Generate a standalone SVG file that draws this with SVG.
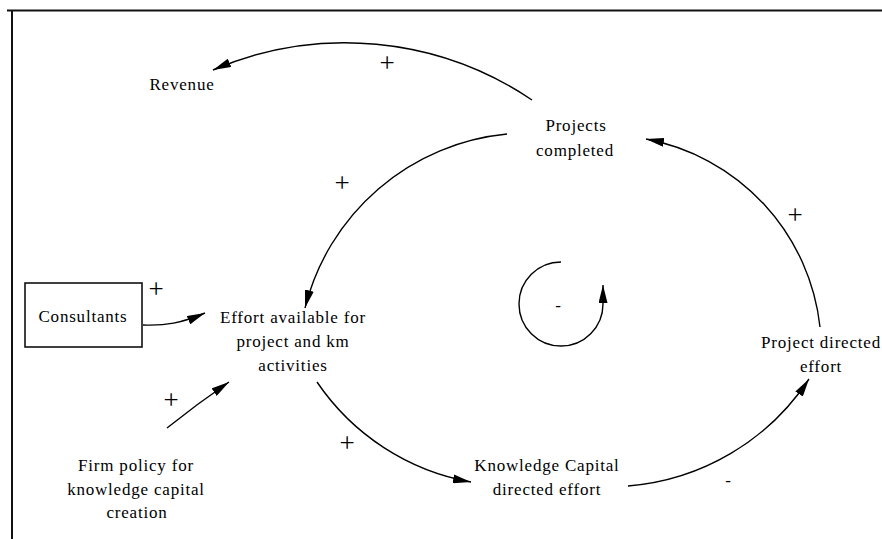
<svg xmlns="http://www.w3.org/2000/svg" width="882" height="539" viewBox="0 0 882 539">
  <style>
    .lbl { font-family: "Liberation Serif", "Times New Roman", serif; font-size: 17px; letter-spacing: 0.8px; fill: #000; text-anchor: middle; }
    .sgn { font-family: "Liberation Serif", "Times New Roman", serif; font-size: 27px; fill: #000; text-anchor: middle; }
    .neg { font-family: "Liberation Serif", "Times New Roman", serif; font-size: 17px; fill: #000; text-anchor: middle; }
    .link { fill: none; stroke: #000; stroke-width: 1.4; marker-end: url(#head); }
    .frame { stroke: #111; stroke-width: 2; }
  </style>
  <defs>
    <marker id="head" viewBox="0 0 18 9" refX="18" refY="4.5" markerWidth="18" markerHeight="9" markerUnits="userSpaceOnUse" orient="auto">
      <path d="M0,0 L18,4.5 L0,9 z" fill="#000"/>
    </marker>
  </defs>

  <rect width="882" height="539" fill="#fff"/>

  <!-- page frame: top and left edges only -->
  <line class="frame" x1="7" y1="10.5" x2="882" y2="10.5"/>
  <line class="frame" x1="12" y1="10" x2="12" y2="539"/>

  <!-- causal links -->
  <g id="links">
    <path class="link" d="M532,100 A334,334 0 0,0 213,70"/>
    <path class="link" d="M507,134 A231,231 0 0,0 305,308"/>
    <path class="link" d="M317,382 A236,236 0 0,0 471,482"/>
    <path class="link" d="M628,486 A239.5,239.5 0 0,0 809,379"/>
    <path class="link" d="M820,327 A215,215 0 0,0 646,139"/>
    <path class="link" d="M143,325 C165,326 182,323 205,313"/>
    <path class="link" d="M167,428 Q197,404 229,382"/>
    <!-- loop marker -->
    <path class="link" d="M561,262 A42,42 0 1,0 603,304 L603,285"/>
  </g>

  <!-- polarity signs -->
  <g id="signs">
    <text class="sgn" x="387" y="72">+</text>
    <text class="sgn" x="342" y="192">+</text>
    <text class="sgn" x="795" y="224">+</text>
    <text class="sgn" x="156" y="298">+</text>
    <text class="sgn" x="171" y="409">+</text>
    <text class="sgn" x="347" y="452">+</text>
    <text class="neg" x="558" y="311">-</text>
    <text class="neg" x="728" y="486">-</text>
  </g>

  <g id="revenue">
    <text class="lbl" x="182" y="90">Revenue</text>
  </g>

  <g id="projects-completed">
    <text class="lbl" x="576" y="131">Projects</text>
    <text class="lbl" x="575" y="156">completed</text>
  </g>

  <g id="consultants">
    <rect x="25" y="283" width="117" height="64" fill="#fff" stroke="#111" stroke-width="1.6"/>
    <text class="lbl" x="83" y="322">Consultants</text>
  </g>

  <g id="effort-available">
    <text class="lbl" x="293" y="323">Effort available for</text>
    <text class="lbl" x="293" y="347">project and km</text>
    <text class="lbl" x="293" y="371">activities</text>
  </g>

  <g id="firm-policy">
    <text class="lbl" x="136" y="471">Firm policy for</text>
    <text class="lbl" x="136" y="495">knowledge capital</text>
    <text class="lbl" x="137" y="518">creation</text>
  </g>

  <g id="knowledge-capital-effort">
    <text class="lbl" x="547" y="471">Knowledge Capital</text>
    <text class="lbl" x="547" y="495">directed effort</text>
  </g>

  <g id="project-directed-effort">
    <text class="lbl" x="821" y="348">Project directed</text>
    <text class="lbl" x="821" y="372">effort</text>
  </g>
</svg>
